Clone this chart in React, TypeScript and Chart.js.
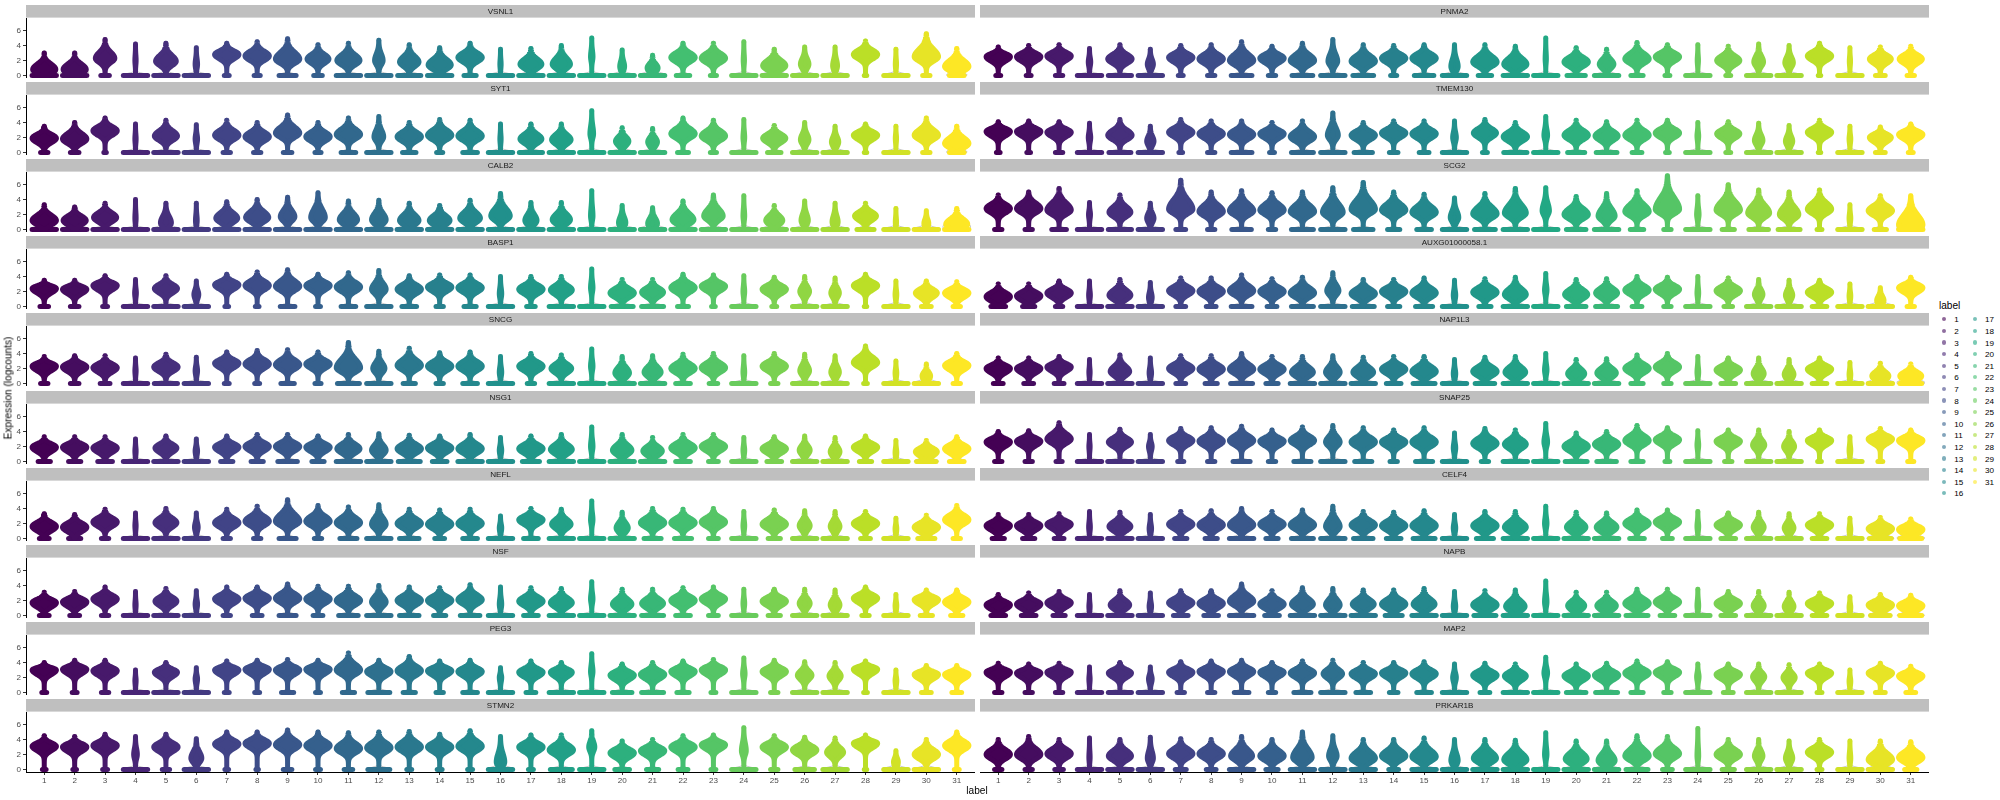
import React, { useEffect, useRef } from "react";
import { Chart, registerables } from "chart.js";

Chart.register(...registerables);
Chart.defaults.font.family = "'Liberation Sans', Arial, sans-serif";

// ---------------- data ----------------
const categories = ["1","2","3","4","5","6","7","8","9","10","11","12","13","14","15","16","17","18","19","20","21","22","23","24","25","26","27","28","29","30","31"];
const yTicks = [0, 2, 4, 6];
const leftGenes = ["VSNL1","SYT1","CALB2","BASP1","SNCG","NSG1","NEFL","NSF","PEG3","STMN2"];
const rightGenes = ["PNMA2","TMEM130","SCG2","AUXG01000058.1","NAP1L3","SNAP25","CELF4","NAPB","MAP2","PRKAR1B"];

// per violin: mode = centre of expressed body, top = max value, zero = relative width of the zero bar, body = relative width of the body
const VSNL1_mode = [0.8,0.8,2.3,2.0,1.9,1.5,2.8,2.6,2.2,2.2,2.0,2.0,1.8,1.4,2.4,1.5,1.5,1.5,2.5,1.2,1.0,2.4,2.3,2.0,1.3,1.5,1.3,2.8,1.5,2.5,1.2];
const VSNL1_top = [3.0,3.0,4.8,4.2,4.3,3.7,4.3,4.5,4.9,4.1,4.3,4.7,4.1,3.7,4.3,3.5,3.6,4.0,5.0,3.4,2.7,4.3,4.3,4.5,3.5,3.8,3.8,4.6,3.5,5.6,3.6];
const VSNL1_zero = [1,1,0.35,1,1,1,0.2,0.25,0.7,0.35,1,1,0.95,1,0.5,1,1,1,1,1,1,0.55,0.25,1,1,1,1,0.1,1,0.3,0.6];
const VSNL1_body = [0.95,0.95,0.8,0.05,0.85,0.1,1,1,1,0.9,0.95,0.35,0.8,0.95,1,0.05,0.9,0.75,0.1,0.2,0.45,1,1,0.05,0.95,0.35,0.2,1,0.05,1,1];

const SYT1_mode = [1.9,1.8,2.9,1.8,2.2,1.8,2.3,2.1,2.6,2.1,2.4,2.1,2.1,2.3,2.2,1.8,1.8,1.7,2.5,1.5,1.4,2.5,2.2,2.0,1.9,1.7,1.4,2.3,1.9,2.3,1.2];
const SYT1_top = [3.5,4.0,4.6,3.8,4.3,3.7,4.3,4.0,5.0,4.0,4.6,4.8,4.0,4.4,4.3,3.8,3.8,3.8,5.6,3.3,3.2,4.6,4.3,4.4,3.6,4.0,3.5,3.8,3.5,4.6,3.5];
const SYT1_zero = [0.3,0.35,0.1,1,1,1,0.3,0.3,0.35,0.25,0.6,1,0.55,0.25,0.6,1,0.95,1,1,1,1,0.45,0.25,1,0.55,1,1,0.1,1,0.3,0.6];
const SYT1_body = [1,1,1,0.05,0.95,0.1,1,1,1,1,1,0.4,1,1,1,0.05,0.9,0.8,0.15,0.55,0.4,1,1,0.07,0.95,0.35,0.3,1,0.05,1,1];

const CALB2_mode = [1.2,1.2,1.6,1.5,0.9,1.2,1.5,1.6,1.7,1.6,1.3,1.3,1.2,1.2,1.5,1.8,1.2,1.3,1.8,0.9,0.8,1.3,1.8,1.8,1.2,1.2,1.0,1.8,1.0,0.8,0.7];
const CALB2_top = [3.3,3.0,3.5,4.0,3.5,3.5,3.7,4.0,4.3,4.9,3.8,3.9,3.5,3.2,3.9,4.8,3.6,3.6,5.2,3.2,2.9,3.8,4.6,4.5,3.2,3.8,3.5,3.5,2.8,2.5,2.8];
const CALB2_zero = [1,1,1,1,1,1,1,1,1,1,1,1,1,1,1,1,1,1,1,1,1,1,1,1,1,1,1,0.7,1,1,1];
const CALB2_body = [1,0.95,0.95,0.05,0.45,0.07,0.9,0.95,0.6,0.6,0.75,0.6,0.8,0.85,0.85,0.8,0.5,0.75,0.1,0.3,0.4,0.9,0.8,0.07,0.7,0.3,0.25,0.9,0.05,0.2,0.9];

const BASP1_mode = [2.4,2.3,2.8,1.8,2.4,1.6,2.9,2.8,2.7,2.8,2.6,2.3,2.3,2.6,2.5,1.7,2.3,2.2,2.5,1.8,1.9,2.5,2.7,2.0,2.3,2.0,1.8,2.8,1.6,1.8,1.8];
const BASP1_top = [3.5,3.5,4.1,3.6,4.1,3.4,4.3,4.6,4.9,4.3,4.5,4.8,4.1,4.2,4.2,4.0,4.0,4.0,5.0,3.6,3.6,4.3,4.2,4.1,3.9,4.0,3.8,4.3,3.4,3.4,3.3];
const BASP1_zero = [0.35,0.35,0.2,1,1,1,0.15,0.15,0.6,0.2,0.6,1,0.6,0.3,0.5,1,0.35,1,1,0.9,0.9,0.45,0.15,1,0.2,1,1,0.1,1,0.4,0.3];
const BASP1_body = [1,1,1,0.07,0.95,0.2,1,1,1,1,1,0.6,1,1,1,0.1,1,0.9,0.1,1,0.9,1,1,0.07,1,0.4,0.35,1,0.07,0.9,1];

const SNCG_mode = [2.3,2.2,2.1,1.7,2.2,1.7,2.7,2.6,2.5,2.6,2.1,2.0,2.4,2.3,2.3,1.5,2.3,2.0,2.3,1.4,1.5,2.0,2.1,1.5,2.3,1.7,1.5,2.8,1.4,1.0,2.4];
const SNCG_top = [3.6,3.7,3.7,3.4,3.9,3.5,4.2,4.4,4.5,4.2,5.5,4.3,4.7,4.1,4.2,3.6,4.0,3.8,4.6,3.6,3.7,3.9,4.0,3.7,4.0,3.9,3.7,5.0,3.0,2.6,4.0];
const SNCG_zero = [0.3,0.35,0.4,1,0.95,1,0.2,0.2,0.55,0.25,0.9,1,0.5,0.3,0.6,1,0.3,1,1,1,1,0.6,0.35,1,0.3,1,1,0.15,1,1,0.3];
const SNCG_body = [1,1,1,0.05,1,0.1,1,1,1,1,1,0.5,1,1,1,0.1,1,0.85,0.1,0.6,0.7,1,1,0.07,1,0.4,0.35,1,0.07,0.35,1];

const NSG1_mode = [1.9,1.9,1.8,1.4,1.8,1.4,1.9,2.0,2.0,1.9,1.7,1.5,1.7,1.8,1.7,1.5,1.7,1.6,2.0,1.5,1.4,1.8,2.0,1.5,1.7,1.5,1.3,1.9,1.2,1.3,1.7];
const NSG1_top = [3.3,3.3,3.3,3.0,3.4,3.0,3.4,3.6,3.6,3.4,3.6,3.7,3.5,3.4,3.6,3.2,3.4,3.6,4.6,3.6,3.2,3.6,3.6,3.2,3.3,3.4,3.2,3.4,2.8,2.8,3.3];
const NSG1_zero = [0.5,0.5,0.6,1,1,1,0.5,0.5,0.8,0.5,1,1,0.9,0.6,1,1,0.7,1,1,1,1,0.6,0.4,1,0.6,1,1,0.5,1,0.8,0.6];
const NSG1_body = [1,1,1,0.05,0.9,0.1,1,1,1,1,0.95,0.6,1,1,1,0.1,1,0.9,0.1,0.8,0.8,1,1,0.07,1,0.45,0.4,1,0.07,0.9,1];

const NEFL_mode = [1.6,1.5,2.2,1.7,2.1,1.5,2.1,2.3,2.3,2.3,2.1,1.9,2.0,1.9,2.0,1.4,2.5,1.9,2.5,1.4,2.1,2.1,2.2,1.7,1.9,1.7,1.6,2.0,1.3,1.5,2.5];
const NEFL_top = [3.3,3.2,3.9,3.4,4.0,3.4,3.9,4.3,5.2,4.4,4.2,4.5,3.9,3.8,3.9,3.0,4.0,3.9,5.0,3.5,4.0,3.9,4.0,3.6,3.8,3.7,3.6,3.6,2.7,3.1,4.4];
const NEFL_zero = [0.4,0.5,0.3,1,1,1,0.3,0.3,0.7,0.3,0.7,1,0.8,0.4,0.6,1,0.6,1,1,1,0.7,0.7,0.4,1,0.5,1,1,0.4,1,0.7,0.3];
const NEFL_body = [1,1,1,0.05,0.9,0.15,1,1,1,1,1,0.6,1,1,1,0.1,1,0.8,0.1,0.5,1,1,1,0.07,1,0.45,0.4,1,0.07,1,1];

const NSF_mode = [1.7,1.8,2.2,1.4,1.9,1.5,2.2,2.3,2.3,2.2,2.0,1.8,2.0,2.0,2.1,1.5,1.9,1.7,2.2,1.5,1.6,2.0,2.2,1.6,1.9,1.6,1.4,2.3,1.3,2.1,1.8];
const NSF_top = [3.1,3.2,3.8,3.2,3.6,3.3,3.8,3.8,4.2,3.9,3.9,4.0,3.8,3.7,4.1,3.8,3.7,3.6,4.5,3.5,3.5,3.7,3.8,3.5,3.5,3.5,3.4,3.8,2.8,3.4,3.4];
const NSF_zero = [0.4,0.4,0.3,1,1,1,0.3,0.4,0.7,0.4,0.8,1,0.8,0.5,0.8,1,0.6,1,1,1,0.9,0.6,0.4,1,0.5,1,1,0.3,1,0.5,0.5];
const NSF_body = [1,1,1,0.05,0.9,0.1,1,1,1,1,1,0.6,1,1,1,0.1,1,0.9,0.1,0.8,0.9,1,1,0.07,1,0.45,0.4,1,0.07,1,1];

const PEG3_mode = [3.0,3.1,2.9,1.6,2.7,1.8,3.0,3.1,3.0,3.1,3.0,2.8,2.9,2.9,2.8,2.0,2.7,2.7,2.8,2.3,2.4,2.8,3.0,2.5,2.8,2.3,2.2,3.1,1.6,2.4,2.4];
const PEG3_top = [4.0,4.3,4.3,3.0,4.0,3.3,4.2,4.3,4.4,4.3,5.3,4.3,4.8,4.2,4.3,3.3,4.2,4.0,5.2,3.8,4.0,4.2,4.4,4.6,4.3,4.1,4.0,4.2,3.0,3.6,3.6];
const PEG3_zero = [0.2,0.2,0.3,1,1,1,0.2,0.2,0.5,0.2,0.5,0.9,0.5,0.3,0.6,1,0.4,1,1,0.8,0.9,0.5,0.2,1,0.3,1,1,0.15,1,0.4,0.4];
const PEG3_body = [1,1,1,0.05,0.95,0.1,1,1,1,1,1,1,1,1,1,0.1,1,0.9,0.1,1,1,1,1,0.1,1,0.6,0.5,1,0.07,1,1];

const STMN2_mode = [3.1,3.0,3.2,2.0,3.0,1.5,3.4,3.5,3.3,3.2,2.8,2.9,3.0,3.0,3.1,1.0,3.0,2.6,3.0,2.2,2.5,3.0,3.3,2.5,3.0,2.6,2.3,3.5,1.0,2.0,3.2];
const STMN2_top = [4.5,4.4,4.7,4.4,4.7,4.1,5.0,5.0,5.3,5.0,4.9,5.0,5.1,4.7,5.2,4.4,4.6,4.6,5.2,3.8,4.0,4.5,4.6,5.6,4.5,4.3,4.2,4.6,2.5,4.0,5.0];
const STMN2_zero = [0.15,0.15,0.2,1,0.3,1,0.15,0.1,0.35,0.2,0.35,0.9,0.2,0.2,0.2,1,0.2,0.9,1,0.6,0.5,0.4,0.2,1,0.3,0.8,1,0.1,1,1,0.2];
const STMN2_body = [1,1,1,0.15,1,0.45,1,1,1,1,1,1,1,1,1,0.35,1,1,0.25,1,1,1,1,0.2,1,1,0.7,1,0.2,1,1];

const PNMA2_mode = [2.5,2.5,2.6,1.8,2.2,1.5,2.4,2.2,2.0,2.3,2.0,1.9,1.9,2.3,2.3,1.2,1.8,1.5,2.2,1.8,1.5,2.2,2.5,2.0,2.0,1.8,1.7,2.6,1.9,2.2,2.2];
const PNMA2_top = [3.8,4.0,4.1,3.6,4.1,3.5,4.0,4.1,4.5,3.9,4.3,4.8,4.1,4.0,4.1,4.1,4.1,3.9,5.0,3.7,3.5,4.4,4.1,4.1,3.9,4.2,4.0,4.3,3.7,3.8,3.9];
const PNMA2_zero = [0.2,0.2,0.3,1,0.95,1,0.2,0.3,0.85,0.3,0.85,1,0.85,0.25,0.8,1,0.55,1,1,0.75,1,0.5,0.2,1,0.2,1,1,0.1,1,0.4,0.3];
const PNMA2_body = [1,1,1,0.1,1,0.25,1,1,1,1,1,0.4,1,1,1,0.3,1,0.95,0.05,1,0.6,1,1,0.05,0.95,0.4,0.35,1,0.05,0.9,0.95];

const TMEM130_mode = [2.8,2.8,2.7,2.0,2.3,1.5,2.7,2.5,2.4,2.5,2.1,2.3,2.3,2.6,2.5,2.0,2.6,2.1,2.3,2.3,2.2,2.3,2.6,2.2,2.5,1.6,1.5,2.7,1.8,2.0,2.4];
const TMEM130_top = [4.1,4.2,4.1,3.9,4.4,3.5,4.4,4.2,4.2,4.0,4.2,5.3,4.0,4.2,4.2,4.2,4.4,4.0,4.8,4.3,4.1,4.3,4.3,4.0,4.1,3.9,3.6,4.3,3.5,3.4,3.8];
const TMEM130_zero = [0.15,0.15,0.3,1,0.9,1,0.15,0.3,0.85,0.2,0.9,1,0.75,0.35,0.4,1,0.2,0.95,1,0.7,0.85,0.4,0.15,1,0.2,1,1,0.1,1,0.4,0.2];
const TMEM130_body = [1,1,1,0.1,1,0.3,1,1,1,1,1,0.45,1,1,1,0.15,0.95,1,0.15,1,0.95,1,1,0.07,0.95,0.35,0.3,1,0.07,0.9,1];

const SCG2_mode = [2.8,2.8,2.6,2.0,2.3,1.5,2.7,2.4,2.5,2.6,2.4,2.3,2.7,2.6,2.3,1.6,2.1,2.2,2.5,2.0,1.8,2.4,2.7,2.0,2.6,2.2,2.0,2.7,1.5,2.5,0.6];
const SCG2_top = [4.6,5.0,5.5,3.6,4.6,3.5,6.6,5.0,5.2,4.9,5.0,5.6,6.3,5.0,4.7,4.2,4.8,5.5,5.6,4.4,4.8,5.2,7.2,4.5,6.0,5.3,5.0,5.3,3.3,4.5,4.5];
const SCG2_zero = [0.3,0.3,0.6,1,0.95,1,0.4,0.3,0.8,0.3,0.9,1,0.8,0.5,0.6,1,0.85,1,1,0.8,1,0.55,0.3,1,0.5,0.8,0.9,0.2,1,0.5,1];
const SCG2_body = [1,1,1,0.08,0.9,0.3,1,1,1,1,1,0.85,1,1,1,0.35,1,0.9,0.3,1,0.7,1,1,0.1,1,0.9,0.8,1,0.07,1,1];

const AUXG_mode = [1.3,1.4,1.8,1.5,1.5,1.2,2.1,2.0,2.1,2.0,1.8,2.1,1.7,2.0,1.8,1.5,1.9,1.6,2.2,1.6,1.8,2.2,2.3,1.8,2.1,1.6,1.5,1.9,1.4,0.8,2.5];
const AUXG_top = [3.0,3.0,3.4,3.4,3.6,3.2,3.8,3.8,4.2,3.7,3.9,4.5,3.6,3.6,3.8,3.5,3.7,3.9,4.4,3.6,3.7,4.0,3.9,4.0,3.8,3.6,3.5,3.5,3.0,2.5,3.9];
const AUXG_zero = [0.6,0.5,0.3,1,1,1,0.4,0.4,0.85,0.4,0.9,1,0.9,0.5,0.7,1,0.5,1,1,0.8,0.9,0.4,0.3,1,0.35,1,1,0.6,1,1,0.3];
const AUXG_body = [1,1,1,0.07,0.9,0.15,1,1,1,1,1,0.5,1,1,1,0.1,1,0.9,0.1,0.95,0.9,1,1,0.07,1,0.35,0.3,1,0.07,0.3,1];

const NAP1L3_mode = [2.0,2.0,2.2,1.5,1.6,1.4,2.0,1.9,1.9,1.9,1.5,1.5,1.5,1.9,1.6,1.3,1.6,1.5,1.8,1.3,1.4,2.0,2.2,1.5,1.8,1.3,1.2,1.9,1.2,1.0,1.0];
const NAP1L3_top = [3.4,3.4,3.6,3.2,3.8,3.4,3.7,3.7,4.0,3.6,3.6,3.7,3.5,3.6,3.6,3.2,3.5,3.6,4.0,3.2,3.3,3.8,4.0,3.6,3.4,3.4,3.2,3.4,2.8,2.7,2.6];
const NAP1L3_zero = [0.4,0.4,0.4,1,1,1,0.4,0.5,0.9,0.5,1,1,1,0.6,0.9,1,0.8,1,1,1,1,0.5,0.3,1,0.6,1,1,0.6,1,1,0.9];
const NAP1L3_body = [1,1,1,0.05,0.8,0.1,1,1,1,1,0.9,0.6,0.85,1,1,0.1,1,0.85,0.1,0.7,0.8,1,1,0.07,1,0.45,0.4,1,0.07,0.7,0.9];

const SNAP25_mode = [2.6,2.7,3.0,2.0,2.6,2.0,2.8,2.7,2.8,2.7,2.8,2.6,2.6,2.6,2.6,1.8,2.4,2.3,2.6,2.0,2.3,2.8,2.9,2.2,2.7,2.2,2.0,2.8,1.5,3.0,2.8];
const SNAP25_top = [4.0,4.1,5.2,3.6,4.3,3.6,4.4,4.5,4.7,4.2,4.6,4.8,4.5,4.2,4.5,3.8,4.4,4.2,5.1,3.8,4.0,4.8,4.5,4.1,4.2,4.2,4.0,4.2,3.3,4.4,4.2];
const SNAP25_zero = [0.3,0.3,0.25,1,1,1,0.25,0.3,0.7,0.3,0.7,1,0.7,0.3,0.7,1,0.3,1,1,0.9,0.8,0.5,0.2,1,0.3,1,1,0.15,1,0.2,0.25];
const SNAP25_body = [1,1,1,0.05,0.95,0.15,1,1,1,1,1,0.6,1,1,1,0.1,1,0.9,0.15,1,1,1,1,0.07,1,0.5,0.45,1,0.07,1,1];

const CELF4_mode = [1.7,1.7,1.9,1.5,1.6,1.3,1.9,1.8,1.8,1.9,1.8,1.6,1.8,1.7,1.7,1.4,1.7,1.5,2.0,1.5,1.5,2.0,2.2,1.6,1.8,1.5,1.4,1.8,1.2,1.3,1.2];
const CELF4_top = [3.2,3.2,3.3,3.6,3.5,3.2,3.6,3.7,4.0,3.6,3.8,4.3,3.6,3.5,3.7,3.2,3.6,3.6,4.3,3.5,3.4,3.8,3.8,3.6,3.4,3.5,3.3,3.3,2.7,2.8,2.6];
const CELF4_zero = [0.5,0.5,0.4,1,1,1,0.5,0.5,1,0.5,0.9,1,0.8,0.6,0.9,1,0.7,1,1,1,1,0.6,0.4,1,0.6,1,1,0.6,1,0.9,0.9];
const CELF4_body = [1,1,1,0.07,0.9,0.1,1,1,1,1,1,0.6,1,1,1,0.1,1,0.9,0.1,0.8,0.85,1,1,0.07,1,0.45,0.4,1,0.07,1,1];

const NAPB_mode = [1.4,1.5,1.7,1.2,1.4,1.2,1.7,1.6,1.9,1.5,1.5,1.4,1.5,1.5,1.5,1.2,1.4,1.2,1.8,1.3,1.3,1.6,1.8,1.3,1.6,1.3,1.2,1.6,1.1,1.4,1.3];
const NAPB_top = [2.8,3.0,3.2,2.8,3.3,3.0,3.3,3.3,4.2,3.3,3.7,3.6,3.4,3.4,3.6,3.2,3.3,3.4,4.6,3.1,3.1,3.5,3.5,3.5,3.2,3.2,3.1,3.0,2.5,2.8,2.7];
const NAPB_zero = [0.6,0.6,0.5,1,1,1,0.6,0.6,1,0.6,1,1,1,0.7,1,1,0.9,1,1,1,1,0.9,0.6,1,0.6,1,1,0.6,1,0.8,0.9];
const NAPB_body = [1,1,1,0.05,0.8,0.1,1,1,1,1,0.9,0.6,0.9,1,0.9,0.1,1,0.8,0.1,0.7,0.8,1,1,0.07,1,0.45,0.4,1,0.07,1,1];

const MAP2_mode = [2.7,2.6,2.7,1.8,2.6,1.8,2.7,2.8,2.8,2.7,2.6,2.5,2.5,2.6,2.5,2.0,2.3,2.2,2.6,2.2,2.3,2.6,2.7,2.1,2.4,2.1,2.0,2.6,1.5,2.6,2.2];
const MAP2_top = [3.9,3.8,3.9,3.4,4.0,3.4,4.1,4.2,4.3,4.0,4.2,4.3,4.0,4.0,4.1,3.8,3.9,3.8,4.7,3.8,3.9,4.2,4.1,3.8,3.8,3.8,3.7,3.8,3.0,3.9,3.5];
const MAP2_zero = [0.3,0.3,0.3,1,0.95,1,0.3,0.3,0.6,0.3,0.7,1,0.6,0.35,0.6,1,0.4,1,1,0.8,0.9,0.5,0.3,1,0.4,1,1,0.2,1,0.4,0.4];
const MAP2_body = [1,1,1,0.05,0.95,0.15,1,1,1,1,1,0.8,1,1,1,0.15,1,0.9,0.15,1,1,1,1,0.1,1,0.5,0.5,1,0.07,1,1];

const PRKAR1B_mode = [2.0,2.0,2.1,1.6,1.8,1.5,2.1,2.1,1.8,1.8,1.6,1.8,1.5,1.8,1.7,1.2,1.5,1.3,2.0,1.4,1.2,1.8,2.1,1.8,2.0,1.8,1.5,2.3,1.5,1.3,1.6];
const PRKAR1B_top = [4.0,4.4,4.0,4.2,4.0,4.3,4.1,4.0,4.4,4.0,5.0,4.5,4.0,4.0,4.2,4.0,4.0,3.9,4.9,3.8,3.8,4.5,4.4,5.5,4.0,4.0,3.8,4.0,3.8,3.8,3.7];
const PRKAR1B_zero = [0.3,0.3,0.35,1,1,1,0.45,0.4,1,0.5,1,1,1,0.4,1,1,1,1,1,1,1,0.9,0.4,1,0.5,1,1,0.2,1,1,0.5];
const PRKAR1B_body = [1,1,1,0.05,0.95,0.25,1,1,0.9,1,0.8,0.35,1,1,1,0.3,0.95,0.95,0.1,0.9,0.7,1,1,0.07,1,0.35,0.3,1,0.07,1,1];

const leftData = [
  [VSNL1_mode, VSNL1_top, VSNL1_zero, VSNL1_body],
  [SYT1_mode, SYT1_top, SYT1_zero, SYT1_body],
  [CALB2_mode, CALB2_top, CALB2_zero, CALB2_body],
  [BASP1_mode, BASP1_top, BASP1_zero, BASP1_body],
  [SNCG_mode, SNCG_top, SNCG_zero, SNCG_body],
  [NSG1_mode, NSG1_top, NSG1_zero, NSG1_body],
  [NEFL_mode, NEFL_top, NEFL_zero, NEFL_body],
  [NSF_mode, NSF_top, NSF_zero, NSF_body],
  [PEG3_mode, PEG3_top, PEG3_zero, PEG3_body],
  [STMN2_mode, STMN2_top, STMN2_zero, STMN2_body],
];
const rightData = [
  [PNMA2_mode, PNMA2_top, PNMA2_zero, PNMA2_body],
  [TMEM130_mode, TMEM130_top, TMEM130_zero, TMEM130_body],
  [SCG2_mode, SCG2_top, SCG2_zero, SCG2_body],
  [AUXG_mode, AUXG_top, AUXG_zero, AUXG_body],
  [NAP1L3_mode, NAP1L3_top, NAP1L3_zero, NAP1L3_body],
  [SNAP25_mode, SNAP25_top, SNAP25_zero, SNAP25_body],
  [CELF4_mode, CELF4_top, CELF4_zero, CELF4_body],
  [NAPB_mode, NAPB_top, NAPB_zero, NAPB_body],
  [MAP2_mode, MAP2_top, MAP2_zero, MAP2_body],
  [PRKAR1B_mode, PRKAR1B_top, PRKAR1B_zero, PRKAR1B_body],
];

// ---------------- style ----------------
const VIRIDIS_STOPS = ["#440154","#482576","#414487","#35608D","#2A788E","#21908C","#22A884","#43BF71","#7AD151","#BBDF27","#FDE725"];
function hexToRgb(h: string) { return [parseInt(h.slice(1,3),16), parseInt(h.slice(3,5),16), parseInt(h.slice(5,7),16)]; }
function viridis(t: number): number[] {
  const p = t * (VIRIDIS_STOPS.length - 1);
  const i = Math.min(VIRIDIS_STOPS.length - 2, Math.floor(p));
  const f = p - i;
  const a = hexToRgb(VIRIDIS_STOPS[i]), b = hexToRgb(VIRIDIS_STOPS[i+1]);
  return a.map((v, k) => Math.round(v + (b[k] - v) * f));
}
const clusterColors = categories.map((_, i) => viridis(i / (categories.length - 1)));
const rgb = (c: number[], a = 1) => `rgba(${c[0]},${c[1]},${c[2]},${a})`;

const FONT = "'Liberation Sans', Arial, sans-serif";
const SMALL = 8.1;
const BIG = 10.1;
const PANEL_LEFT = [26, 980];
const PANEL_W = 949;
const ROW0 = 5;
const ROW_PITCH = 77.1;
const STRIP_H = 13;
const PLOT_H = 60;
const Y_AXIS_W = 26;
const X_AXIS_H = 24;
const Y_MIN = -0.35, Y_MAX = 7.7;
const PT_R = 2.5;

function zeroDens(y: number) { return Math.exp(-0.5 * (y / 0.25) ** 2); }
function bodyDens(y: number, m: number, t: number) {
  const sU = Math.max(0.3, (t - m) / 3);
  const s = y < m ? 0.6 : sU;
  return Math.exp(-0.5 * ((y - m) / s) ** 2);
}

const stripPlugin = {
  id: "strip",
  beforeDraw(chart: any) {
    const { ctx, chartArea } = chart;
    const label = chart.options.plugins.strip.label;
    ctx.save();
    ctx.fillStyle = "#BFBFBF";
    ctx.fillRect(chartArea.left, chartArea.top - STRIP_H, chartArea.right - chartArea.left, STRIP_H - 0.4);
    ctx.fillStyle = "#1A1A1A";
    ctx.font = `${SMALL}px ${FONT}`;
    ctx.textAlign = "center";
    ctx.textBaseline = "middle";
    ctx.fillText(label, (chartArea.left + chartArea.right) / 2, chartArea.top - STRIP_H / 2);
    ctx.restore();
  },
};

const violinPlugin = {
  id: "violins",
  afterDatasetsDraw(chart: any) {
    const ds = chart.data.datasets[0];
    const [mode, top, zero, body] = ds.violin as number[][];
    const xs = chart.scales.x, ys = chart.scales.y;
    const unit = xs.getPixelForValue(2) - xs.getPixelForValue(1);
    const ctx = chart.ctx;
    const N = 70;
    ctx.save();
    ctx.strokeStyle = "#9A9A9A";
    ctx.lineWidth = 0.6;
    mode.forEach((m, i) => {
      const t = top[i], z = zero[i], b = body[i];
      const cx = xs.getPixelForValue(i + 1);
      ctx.beginPath();
      for (let k = 0; k <= N; k++) {
        const y = (t * k) / N;
        const d = Math.min(1, z * zeroDens(y) + b * bodyDens(y, m, t));
        const px = cx + 0.45 * unit * d, py = ys.getPixelForValue(y);
        if (k === 0) ctx.moveTo(px, py); else ctx.lineTo(px, py);
      }
      for (let k = N; k >= 0; k--) {
        const y = (t * k) / N;
        const d = Math.min(1, z * zeroDens(y) + b * bodyDens(y, m, t));
        ctx.lineTo(cx - 0.45 * unit * d, ys.getPixelForValue(y));
      }
      ctx.closePath();
      ctx.stroke();
    });
    ctx.lineJoin = "round";
    ctx.lineCap = "round";
    mode.forEach((m, i) => {
      const t = top[i], z = zero[i], b = body[i];
      const cx = xs.getPixelForValue(i + 1);
      const col = rgb(clusterColors[i]);
      ctx.fillStyle = col;
      ctx.strokeStyle = col;
      ctx.lineWidth = PT_R * 2;
      const y0 = ys.getPixelForValue(0);
      if (z > 0) {
        ctx.beginPath();
        ctx.moveTo(cx - 0.4 * unit * z, y0);
        ctx.lineTo(cx + 0.4 * unit * z, y0);
        ctx.stroke();
      }
      ctx.beginPath();
      for (let k = 0; k <= N; k++) {
        const y = (t * k) / N;
        const px = cx + 0.4 * unit * b * bodyDens(y, m, t), py = ys.getPixelForValue(y);
        if (k === 0) ctx.moveTo(px, py); else ctx.lineTo(px, py);
      }
      for (let k = N; k >= 0; k--) {
        const y = (t * k) / N;
        ctx.lineTo(cx - 0.4 * unit * b * bodyDens(y, m, t), ys.getPixelForValue(y));
      }
      ctx.closePath();
      ctx.fill();
      ctx.stroke();
      ctx.fillStyle = rgb(clusterColors[i], 0.45);
      ctx.beginPath();
      ctx.arc(cx, ys.getPixelForValue(t), PT_R, 0, Math.PI * 2);
      ctx.fill();
    });
    ctx.restore();
  },
};

type PanelProps = { gene: string; data: number[][]; col: number; row: number };

function Panel({ gene, data, col, row }: PanelProps) {
  const ref = useRef<HTMLCanvasElement | null>(null);
  const isLeft = col === 0;
  const isBottom = row === 9;
  const width = isLeft ? Y_AXIS_W + PANEL_W : PANEL_W;
  const height = STRIP_H + PLOT_H + (isBottom ? X_AXIS_H : 0);
  const left = isLeft ? 0 : PANEL_LEFT[1];
  const topPx = Math.round(ROW0 + ROW_PITCH * row);

  useEffect(() => {
    if (!ref.current) return;
    const [mode] = data;
    const chart = new Chart(ref.current, {
      type: "scatter",
      data: {
        datasets: [
          {
            data: mode.map((v, i) => ({ x: i + 1, y: v })),
            pointRadius: 0,
            pointHoverRadius: 0,
            showLine: false,
            violin: data,
          } as any,
        ],
      },
      options: {
        animation: false,
        responsive: false,
        maintainAspectRatio: false,
        events: [],
        layout: { padding: { top: STRIP_H, left: 0, right: 0, bottom: 0 } },
        plugins: {
          legend: { display: false },
          tooltip: { enabled: false },
          strip: { label: gene },
        } as any,
        scales: {
          x: {
            type: "linear",
            min: 0.4,
            max: 31.6,
            display: isBottom,
            afterBuildTicks: (s: any) => { s.ticks = categories.map((_, i) => ({ value: i + 1 })); },
            afterFit: (s: any) => {
              if (isBottom) s.height = X_AXIS_H;
              s.paddingLeft = 0; s.paddingRight = 0; s.paddingTop = 0; s.paddingBottom = 0;
            },
            grid: { display: true, drawOnChartArea: false, drawTicks: true, tickLength: 3, color: "#333333", lineWidth: 1 },
            border: { display: true, color: "#000000", width: 1 },
            ticks: {
              autoSkip: false, maxRotation: 0, minRotation: 0, padding: 1,
              color: "#4D4D4D", font: { size: SMALL, family: FONT },
              callback: (v: any) => categories[Math.round(v) - 1],
            },
          },
          y: {
            type: "linear",
            min: Y_MIN,
            max: Y_MAX,
            display: isLeft,
            afterBuildTicks: (s: any) => { s.ticks = yTicks.map((v) => ({ value: v })); },
            afterFit: (s: any) => {
              if (isLeft) s.width = Y_AXIS_W;
              s.paddingLeft = 0; s.paddingRight = 0; s.paddingTop = 0; s.paddingBottom = 0;
            },
            grid: { display: true, drawOnChartArea: false, drawTicks: true, tickLength: 3, color: "#333333", lineWidth: 1 },
            border: { display: true, color: "#000000", width: 1 },
            ticks: { padding: 2, color: "#4D4D4D", font: { size: SMALL, family: FONT }, callback: (v: any) => String(v) },
          },
        },
      } as any,
      plugins: [stripPlugin, violinPlugin],
    });
    return () => chart.destroy();
  }, [gene, data, col, row]);

  return (
    <canvas
      ref={ref}
      width={width}
      height={height}
      style={{ position: "absolute", left, top: topPx, width, height }}
    />
  );
}

export default function App() {
  return (
    <div style={{ position: "absolute", left: 0, top: 0, width: 2000, height: 800, background: "#FFFFFF", fontFamily: FONT, overflow: "hidden" }}>
      {leftGenes.map((g, r) => (
        <Panel key={g} gene={g} data={leftData[r]} col={0} row={r} />
      ))}
      {rightGenes.map((g, r) => (
        <Panel key={g} gene={g} data={rightData[r]} col={1} row={r} />
      ))}
      <div style={{ position: "absolute", left: 8, top: 388, transform: "translate(-50%, -50%) rotate(-90deg)", fontSize: BIG, color: "#000", whiteSpace: "nowrap" }}>
        Expression (logcounts)
      </div>
      <div style={{ position: "absolute", left: 977, top: 790, transform: "translate(-50%, -50%)", fontSize: BIG, color: "#000", whiteSpace: "nowrap" }}>
        label
      </div>
      <div style={{ position: "absolute", left: 1939, top: 305, transform: "translateY(-50%)", fontSize: BIG, color: "#000" }}>label</div>
      {categories.map((c, i) => {
        const colIdx = i < 16 ? 0 : 1;
        const r = colIdx === 0 ? i : i - 16;
        const dotX = colIdx === 0 ? 1944.3 : 1975;
        const y = 319.3 + 11.6 * r;
        return (
          <React.Fragment key={c}>
            <div style={{ position: "absolute", left: dotX - 2.2, top: y - 2.2, width: 4.4, height: 4.4, borderRadius: "50%", background: rgb(clusterColors[i], 0.6) }} />
            <div style={{ position: "absolute", left: dotX + 10, top: y, transform: "translateY(-50%)", fontSize: SMALL, color: "#000", whiteSpace: "nowrap" }}>{c}</div>
          </React.Fragment>
        );
      })}
    </div>
  );
}
